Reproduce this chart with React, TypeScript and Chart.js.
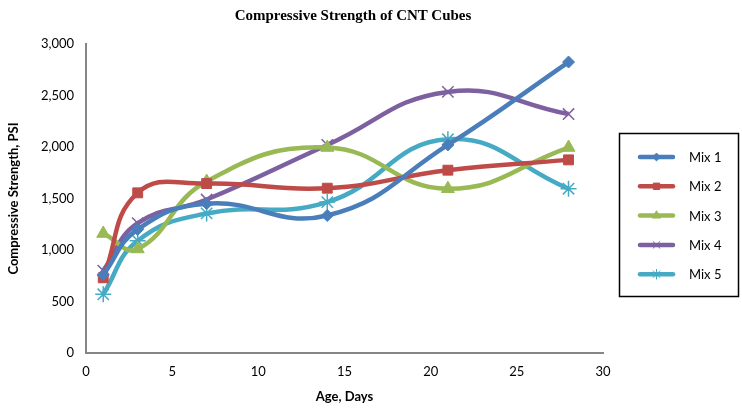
import React, { useEffect, useRef } from "react";
import { Chart, registerables } from "chart.js";
import * as helpers from "chart.js/helpers";

Chart.register(...registerables);

const days = [1, 3, 7, 14, 21, 28];
const seriesNames = ["Mix 1", "Mix 2", "Mix 3", "Mix 4", "Mix 5"];
const mix1 = [760, 1200, 1450, 1335, 2020, 2825];
const mix2 = [730, 1555, 1645, 1600, 1775, 1875];
const mix3 = [1160, 1010, 1665, 1995, 1595, 1995];
const mix4 = [800, 1260, 1490, 2020, 2535, 2320];
const mix5 = [570, 1090, 1355, 1465, 2075, 1595];
const colors = ["#4A7EBB", "#BE4B48", "#98B954", "#7D60A0", "#46AAC5"];
const pointStyles = ["rectRot", "rect", "triangle", "crossRot", "star"];
const pointRadii = [6, 7, 7.5, 8, 8];
const yTicks = [0, 500, 1000, 1500, 2000, 2500, 3000];
const xTicks = [0, 5, 10, 15, 20, 25, 30];

const allSeries = [mix1, mix2, mix3, mix4, mix5];

const legendPlugin = {
  id: "boxLegend",
  afterDraw(chart: any) {
    const ctx = chart.ctx;
    ctx.save();
    ctx.strokeStyle = "#000";
    ctx.lineWidth = 1.5;
    ctx.strokeRect(619.5, 133.5, 119, 163);
    seriesNames.forEach((name, i) => {
      const y = 157 + i * 29.3;
      ctx.strokeStyle = colors[i];
      ctx.fillStyle = colors[i];
      ctx.lineWidth = 4.5;
      ctx.lineCap = "round";
      ctx.beginPath();
      ctx.moveTo(640, y);
      ctx.lineTo(673, y);
      ctx.stroke();
      ctx.lineCap = "butt";
      ctx.lineWidth = 1;
      helpers.drawPoint(
        ctx,
        {
          pointStyle: pointStyles[i],
          radius: pointRadii[i] * 0.65,
          borderWidth: 1,
          rotation: 0,
        } as any,
        656.5,
        y
      );
      ctx.fillStyle = "#000";
      ctx.font = "13px Lato, 'Open Sans', sans-serif";
      ctx.textBaseline = "middle";
      ctx.textAlign = "left";
      ctx.fillText(name, 689, y + 1);
    });
    ctx.restore();
  },
};

export default function App() {
  const ref = useRef<HTMLCanvasElement | null>(null);

  useEffect(() => {
    if (!ref.current) return;
    const datasets = allSeries.map((vals, i) => ({
      label: seriesNames[i],
      data: days.map((d, j) => ({ x: d, y: vals[j] })),
      borderColor: colors[i],
      backgroundColor: colors[i],
      pointBackgroundColor: colors[i],
      pointBorderColor: colors[i],
      borderWidth: 4.5,
      pointStyle: pointStyles[i],
      pointRadius: pointRadii[i],
      pointBorderWidth: i >= 3 ? 1.5 : 1,
      tension: 0.45,
      fill: false,
    }));
    const chart = new Chart(ref.current, {
      type: "line",
      data: { datasets },
      plugins: [legendPlugin],
      options: {
        animation: false,
        responsive: false,
        maintainAspectRatio: false,
        layout: { padding: { top: 44, right: 139, bottom: 0, left: 0 } },
        plugins: {
          legend: { display: false },
          tooltip: { enabled: false },
          title: { display: false },
        },
        scales: {
          x: {
            type: "linear",
            min: 0,
            max: 30,
            afterBuildTicks: (s: any) => {
              s.ticks = xTicks.map((v) => ({ value: v }));
            },
            afterFit: (s: any) => {
              s.height = 58;
            },
            grid: { display: false },
            border: { display: true, color: "#868686", width: 2 },
            ticks: {
              color: "#000",
              font: { family: "Lato, 'Open Sans', sans-serif", size: 13 },
              padding: 3,
              maxRotation: 0,
            },
            title: {
              display: true,
              text: "Age, Days",
              color: "#000",
              font: { family: "Lato, 'Open Sans', sans-serif", size: 13, weight: "bold" },
              padding: { top: 0, bottom: 6 },
            },
          },
          y: {
            type: "linear",
            min: 0,
            max: 3000,
            afterBuildTicks: (s: any) => {
              s.ticks = yTicks.map((v) => ({ value: v }));
            },
            afterFit: (s: any) => {
              s.width = 86;
            },
            grid: { display: false },
            border: { display: true, color: "#868686", width: 2 },
            ticks: {
              color: "#000",
              font: { family: "Lato, 'Open Sans', sans-serif", size: 13 },
              padding: 4,
              callback: (v: any) => Number(v).toLocaleString("en-US"),
            },
            title: {
              display: true,
              text: "Compressive Strength, PSI",
              color: "#000",
              font: { family: "Lato, 'Open Sans', sans-serif", size: 13, weight: "bold" },
              padding: { top: 6, bottom: 0 },
            },
          },
        },
      },
    } as any);
    return () => chart.destroy();
  }, []);

  return (
    <div style={{ position: "fixed", left: 0, top: 0, width: 742, height: 411, background: "#fff" }}>
      <div
        style={{
          position: "absolute",
          left: 0,
          width: 742 - 36,
          top: 5,
          textAlign: "center",
          fontFamily: "'Liberation Serif', 'Times New Roman', serif",
          fontWeight: "bold",
          fontSize: 15,
          color: "#000",
          lineHeight: "20px",
        }}
      >
        Compressive Strength of CNT Cubes
      </div>
      <canvas ref={ref} width={742} height={411} style={{ display: "block" }} />
    </div>
  );
}
